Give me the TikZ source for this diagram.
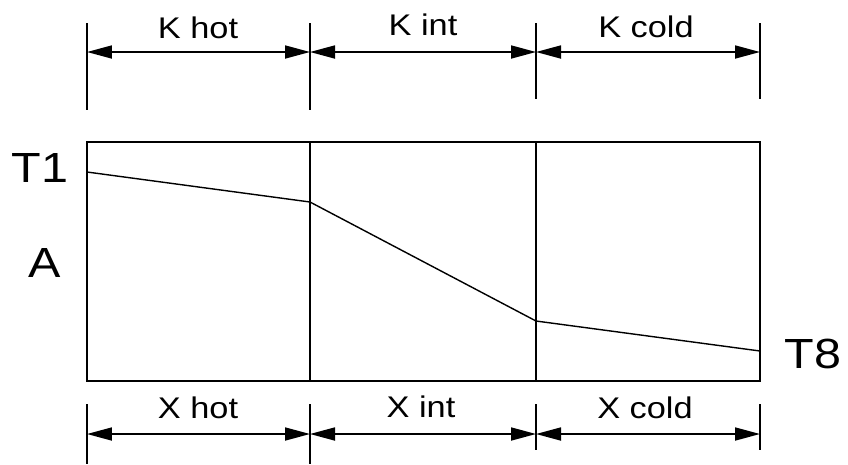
\documentclass[tikz,border=0pt]{standalone}
\usepackage{fontspec}
\setmainfont[FakeStretch=1.15]{Liberation Sans}
\usetikzlibrary{arrows.meta, positioning, calc}
\tikzset{
  every picture/.style={line width=1pt},
  dim/.style={{Triangle[length=5mm, width=2.6mm]}-{Triangle[length=5mm, width=2.6mm]}, line width=1pt},
  profile/.style={line width=0.8pt},
  lbl/.style={font=\fontsize{17}{19}\selectfont, inner sep=0pt},
  big/.style={font=\fontsize{24}{28}\selectfont, inner sep=0pt},
}

\begin{document}
\begin{tikzpicture}[x=0.02cm, y=-0.02cm]
  \useasboundingbox (0,0) rectangle (848,464);
  % wall with three layers
  \coordinate (tl) at (87,142);
  \coordinate (br) at (760,381);
  \draw (tl) rectangle (br);
  \draw (310,142) -- (310,381);
  \draw (536,142) -- (536,381);
  % temperature profile
  \coordinate (t1) at (87,172);
  \coordinate (t2) at (310,202);
  \coordinate (t3) at (536,321);
  \coordinate (t8) at (760,351);
  \draw[profile] (t1) -- (t2) -- (t3) -- (t8);
  \node[big] (lt1) at (40,168) {T1};
  \node[big] (la) at (45,263) {A};
  \node[big] (lt8) at (813,354) {T8};
  % top dimensions
  \draw (87,23) -- (87,110); \draw (310,23) -- (310,110);
  \draw (536,23) -- (536,99); \draw (760,23) -- (760,99);
  \coordinate (k0) at (87,52); \coordinate (k1) at (310,52);
  \coordinate (k2) at (536,52); \coordinate (k3) at (760,52);
  \foreach \a/\b in {k0/k1, k1/k2, k2/k3} \draw[dim] (\a) -- (\b);
  \node[lbl] (khot) at (198,28) {K hot};
  \node[lbl] (kint) at (423,25) {K int};
  \node[lbl] (kcold) at (646,27) {K cold};
  % bottom dimensions
  \draw (87,404) -- (87,464); \draw (310,404) -- (310,464);
  \draw (536,404) -- (536,450); \draw (760,404) -- (760,450);
  \coordinate (x0) at (87,434); \coordinate (x1) at (310,434);
  \coordinate (x2) at (536,434); \coordinate (x3) at (760,434);
  \foreach \a/\b in {x0/x1, x1/x2, x2/x3} \draw[dim] (\a) -- (\b);
  \node[lbl] (xhot) at (198,408) {X hot};
  \node[lbl] (xint) at (421,407) {X int};
  \node[lbl] (xcold) at (645,408) {X cold};
\end{tikzpicture}
\end{document}
